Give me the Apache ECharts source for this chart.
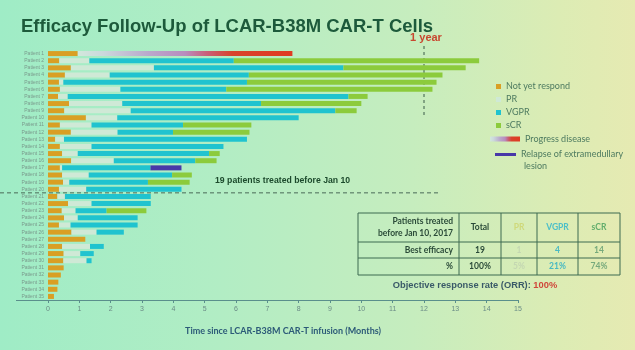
<!DOCTYPE html>
<html>
<head>
<meta charset="utf-8">
<script src="https://cdn.jsdelivr.net/npm/echarts@6/dist/echarts.min.js"></script>
<style>
  html, body { margin: 0; padding: 0; }
  body {
    width: 635px; height: 350px; overflow: hidden;
    background: linear-gradient(90deg, #9fecc6 0%, #b2edc4 35%, #c6edbe 65%, #dcecb4 88%, #e6eab2 100%);
  }
  #chart { width: 635px; height: 350px; }
</style>
</head>
<body>
<div id="chart"></div>
<script>
// months spent in each state, per patient (stacked)
const patients = []
for (let i = 1; i <= 35; i++) patients.push('Patient ' + i)

const notYet = [0.95,0.36,0.73,0.54,0.35,0.38,0.32,0.67,0.52,1.21,0.38,0.73,0.23,0.38,0.45,0.74,0.38,0.45,0.48,0.35,0.3,0.64,0.44,0.51,0.35,0.75,1.19,0.45,0.5,0.49,0.5,0.41,0.33,0.3,0.19]
const pr = [0,0.96,2.65,1.43,0.14,1.93,0.31,1.7,2.12,1.0,1.01,1.49,0.28,1.01,0.5,1.36,0.07,0.85,0.2,0.87,0.24,0.75,0.44,0.44,0.37,0.8,0,0.89,0.53,0.74,0,0,0,0,0]
const vgpr = [0,4.61,6.05,4.44,5.86,3.38,8.96,4.43,6.53,5.79,2.92,1.77,5.84,4.21,4.19,2.6,2.82,2.66,2.51,3.04,2.74,1.89,0.99,1.91,2.14,0.87,0,0.44,0.43,0.16,0,0,0,0,0]
const scr = [0,7.83,3.9,6.18,6.05,6.58,0.61,3.2,0.68,0,2.18,2.44,0,0,0.34,0.68,0,0.63,1.33,0,0,0,1.27,0,0,0,0,0,0,0,0,0,0,0,0]
const progress = [6.85,0,0,0,0,0,0,0,0,0,0,0,0,0,0,0,0,0,0,0,0,0,0,0,0,0,0,0,0,0,0,0,0,0,0]
const relapse = [0,0,0,0,0,0,0,0,0,0,0,0,0,0,0,0,0.99,0,0,0,0,0,0,0,0,0,0,0,0,0,0,0,0,0,0]

// summary table
const tableHead = ['Total', 'PR', 'VGPR', 'sCR']
const bestEfficacy = ['19', '1', '4', '14']
const percents = ['100%', '5%', '21%', '74%']
const oneYear = 12

const colors = {
  notYet: '#d99f24',
  pr: '#cfe9d6',
  vgpr: '#20c3cf',
  scr: '#8ccb3c',
  relapse: '#4838a8'
}
const pdGradient = new echarts.graphic.LinearGradient(0, 0, 1, 0, [
  { offset: 0, color: '#d2e8dc' },
  { offset: 0.12, color: '#cbd8dc' },
  { offset: 0.33, color: '#baa8cc' },
  { offset: 0.5, color: '#b88cbe' },
  { offset: 0.6, color: '#c8607a' },
  { offset: 0.72, color: '#d8432c' },
  { offset: 1, color: '#e03a22' }
])

function bar(name, data, color) {
  return {
    name: name, type: 'bar', stack: 'a', data: data,
    barWidth: 5, itemStyle: { color: color },
    emphasis: { disabled: true }
  }
}

const legendText = { color: '#4e7b60', fontSize: 9, fontFamily: 'Lato' }

const chart = echarts.init(document.getElementById('chart'))
chart.setOption({
  animation: false,
  textStyle: { fontFamily: 'Liberation Sans' },
  title: {
    text: 'Efficacy Follow-Up of LCAR-B38M CAR-T Cells',
    left: 16, top: 12,
    textStyle: { fontSize: 18.5, fontWeight: 'bold', color: '#1d5a3b' }
  },
  grid: { left: 48, right: 117, top: 50, height: 250 },
  legend: [
    {
      data: ['Not yet respond', 'PR', 'VGPR', 'sCR'],
      orient: 'vertical', left: 496, top: 82, padding: 0,
      itemWidth: 5, itemHeight: 5, itemGap: 4, icon: 'rect',
      textStyle: legendText
    },
    {
      data: ['Progress disease'],
      left: 490, top: 134.5, padding: 0, itemWidth: 30, itemHeight: 5, icon: 'rect',
      textStyle: legendText
    },
    {
      data: ['Relapse of extramedullary lesion'],
      left: 495, top: 150, padding: 0, itemWidth: 21, itemHeight: 3, icon: 'rect',
      formatter: function () { return 'Relapse of extramedullary' },
      textStyle: legendText
    }
  ],
  xAxis: {
    type: 'value', min: 0, max: 15, interval: 1,
    splitLine: { show: false },
    axisLine: { show: true, lineStyle: { color: '#5a8f8c' } },
    axisTick: { show: true, length: 3, lineStyle: { color: '#5a8f8c' } },
    axisLabel: { color: '#6b8c86', fontSize: 7, margin: 6 },
    name: 'Time since LCAR-B38M CAR-T infusion (Months)',
    nameLocation: 'middle', nameGap: 27,
    nameTextStyle: { color: '#2c5a78', fontSize: 9, fontFamily: 'Lato', fontWeight: 'bold' }
  },
  yAxis: {
    type: 'category', data: patients, inverse: true,
    axisLine: { show: false }, axisTick: { show: false },
    axisLabel: { color: '#7a9a8c', fontSize: 5, margin: 4 }
  },
  series: [
    bar('Not yet respond', notYet, colors.notYet),
    bar('PR', pr, colors.pr),
    bar('VGPR', vgpr, colors.vgpr),
    bar('sCR', scr, colors.scr),
    bar('Progress disease', progress, pdGradient),
    bar('Relapse of extramedullary lesion', relapse, colors.relapse)
  ]
})

// reference lines and annotations, placed from the axes
const xYear = chart.convertToPixel({ xAxisIndex: 0 }, oneYear)
const x0 = chart.convertToPixel({ xAxisIndex: 0 }, 0)
const y9 = chart.convertToPixel({ yAxisIndex: 0 }, 'Patient 9')
const y20 = chart.convertToPixel({ yAxisIndex: 0 }, 'Patient 20')
const y21 = chart.convertToPixel({ yAxisIndex: 0 }, 'Patient 21')
const ySplit = (y20 + y21) / 2
const yAxisLine = 300

// table geometry
const colX = [358, 459, 501, 537, 578, 620]
const rowY = [213, 242, 258, 275]
const headColors = ['#2a4a38', '#cfd97a', '#4cbfc8', '#62ad6c']
const cellColors = ['#2a4a38', '#c4d7b2', '#49b9c2', '#76a97c']
const tableEls = []
tableEls.push({ type: 'rect', shape: { x: colX[0], y: rowY[0], width: colX[5] - colX[0], height: rowY[3] - rowY[0] },
  style: { fill: 'none', stroke: '#3d6a50', lineWidth: 1 } })
for (let i = 1; i < 5; i++) {
  tableEls.push({ type: 'line', shape: { x1: colX[i], y1: rowY[0], x2: colX[i], y2: rowY[3] }, style: { stroke: '#3d6a50', lineWidth: 1 } })
}
for (let j = 1; j < 3; j++) {
  tableEls.push({ type: 'line', shape: { x1: colX[0], y1: rowY[j], x2: colX[5], y2: rowY[j] }, style: { stroke: '#3d6a50', lineWidth: 1 } })
}
function cell(txt, cx, cy, color, align) {
  return { type: 'text', x: cx, y: cy, style: {
    text: txt, fill: color, font: 'bold 8.5px Lato', textAlign: align || 'center', textVerticalAlign: 'middle' } }
}
tableEls.push({ type: 'text', x: colX[1] - 6, y: (rowY[0] + rowY[1]) / 2, style: {
  text: 'Patients treated\nbefore Jan 10, 2017', fill: '#2a4a38', font: 'bold 8.5px Lato',
  lineHeight: 12, textAlign: 'right', textVerticalAlign: 'middle' } })
tableEls.push(cell('Best efficacy', colX[1] - 6, (rowY[1] + rowY[2]) / 2, '#2a4a38', 'right'))
tableEls.push(cell('%', colX[1] - 6, (rowY[2] + rowY[3]) / 2, '#2a4a38', 'right'))
for (let i = 0; i < 4; i++) {
  const cx = (colX[i + 1] + colX[i + 2]) / 2
  tableEls.push(cell(tableHead[i], cx, (rowY[0] + rowY[1]) / 2, headColors[i]))
  tableEls.push(cell(bestEfficacy[i], cx, (rowY[1] + rowY[2]) / 2, cellColors[i]))
  tableEls.push(cell(percents[i], cx, (rowY[2] + rowY[3]) / 2, cellColors[i]))
}

chart.setOption({
  graphic: [
    // axis line carries on under the patient labels
    { type: 'line', shape: { x1: 16, y1: yAxisLine + 0.5, x2: x0, y2: yAxisLine + 0.5 },
      style: { stroke: '#5a8f8c', lineWidth: 1 } },
    { type: 'line', shape: { x1: xYear, y1: 46, x2: xYear, y2: y9 + 5 },
      style: { stroke: '#3b5a48', lineWidth: 1, lineDash: [3, 3] } },
    { type: 'text', x: xYear + 2, y: 38, style: {
      text: '1 year', fill: '#c8472f', font: 'bold 11px Liberation Sans', textAlign: 'center', textVerticalAlign: 'middle' } },
    { type: 'line', shape: { x1: 0, y1: ySplit, x2: 440, y2: ySplit },
      style: { stroke: '#4a6a58', lineWidth: 1, lineDash: [4, 3] } },
    { type: 'text', x: 215, y: 181, style: {
      text: '19 patients treated before Jan 10', fill: '#1c4a2c', font: 'bold 8.7px Liberation Sans', textVerticalAlign: 'middle' } },
    { type: 'text', x: 524, y: 166, style: {
      text: 'lesion', fill: legendText.color, font: '9px Lato', textVerticalAlign: 'middle' } },
    { type: 'group', children: tableEls },
    { type: 'text', x: 475, y: 285, style: {
      text: '{a|Objective response rate (ORR): }{b|100%}', textAlign: 'center', textVerticalAlign: 'middle',
      rich: {
        a: { fill: '#3a5a68', font: 'bold 9.3px Liberation Sans' },
        b: { fill: '#d0463a', font: 'bold 9.3px Liberation Sans' }
      } } }
  ]
})
</script>
</body>
</html>
